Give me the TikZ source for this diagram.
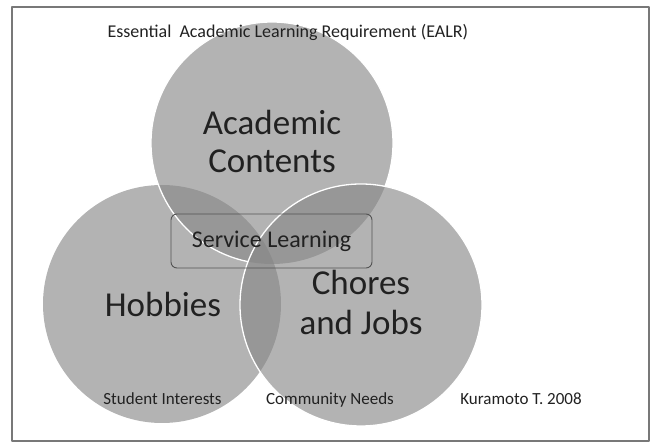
\documentclass[tikz,border=0pt]{standalone}
\usepackage{fontspec}
\setmainfont{Carlito}
\usetikzlibrary{positioning}
\definecolor{venngray}{gray}{0.52}
\definecolor{framegray}{gray}{0.47}
\definecolor{boxgray}{gray}{0.32}
\definecolor{inkgray}{gray}{0.13}

\begin{document}
\begin{tikzpicture}[x=1pt,y=-1pt,line join=round,
    venn/.style={fill=venngray,fill opacity=0.62},
    rim/.style={draw=white,line width=1.3pt},
    bigtext/.style={font=\fontsize{35}{40}\selectfont,text=inkgray,anchor=base},
    smalltext/.style={font=\fontsize{17}{20}\selectfont,text=inkgray,anchor=base},
    slbox/.style={draw=boxgray,line width=0.9pt,rounded corners=6pt,
        minimum width=201pt,minimum height=54pt,
        font=\fontsize{24}{28}\selectfont,text=inkgray}]
\useasboundingbox (0,0) rectangle (651,443);
\draw[framegray,line width=1.2pt] (12,7) rectangle (649,441);
% centres of the three sets
\coordinate (acad) at (272,143);
\coordinate (hobby) at (162,304);
\coordinate (chore) at (361,305);
\fill[venn] (hobby) circle (119);
\fill[venn] (acad) circle (121);
\fill[venn] (chore) circle (121);
% white rims: the upper one shows only outside the right set
\begin{scope}[even odd rule]
  \clip (0,0) rectangle (651,443) (chore) circle (121);
  \draw[rim] (acad) circle (121);
\end{scope}
\draw[rim] (chore) circle (121);
% labels
\node[font=\fontsize{18}{22}\selectfont,text=inkgray,anchor=base west] (ealr) at (104,38)
    {Essential\ \ Academic Learning Requirement (EALR)};
\node[bigtext] (acad1) at (272,135) {Academic};
\node[bigtext] (acad2) at (272,173) {Contents};
\node[bigtext] (hob) at (163,317) {Hobbies};
\node[bigtext] (chore1) at (361,295) {Chores};
\node[bigtext] (chore2) at (361,335) {and Jobs};
\node[slbox] (service) at (271.5,241) {Service Learning};
\node[smalltext] (interest) at (162.5,405) {Student Interests};
\node[smalltext] (needs) at (330,405) {Community Needs};
\node[smalltext] (author) at (521,405) {Kuramoto T. 2008};
\end{tikzpicture}
\end{document}
